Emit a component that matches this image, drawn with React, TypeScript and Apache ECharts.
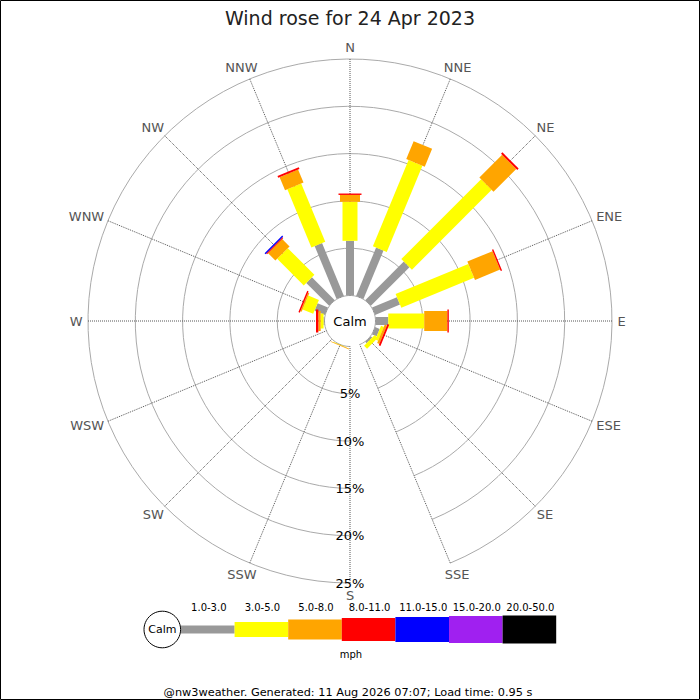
import * as echarts from "echarts";
import { useEffect, useRef } from "react";

const FONT = "DejaVu Sans";

// compass points, N first, clockwise
const directions = ["N", "NNE", "NE", "ENE", "E", "ESE", "SE", "SSE", "S", "SSW", "SW", "WSW", "W", "WNW", "NW", "NNW"];
const speedBins = ["1.0-3.0", "3.0-5.0", "5.0-8.0", "8.0-11.0", "11.0-15.0", "15.0-20.0", "20.0-50.0"];
const binColors = ["#999999", "#ffff00", "#ffa500", "#ff0000", "#0000ff", "#a020f0", "#000000"];
const binWidths = [8, 15, 20, 23, 25, 27, 28];

// % of the day in each speed band (mph), per direction
const speed1to3 = [5.78, 5.54, 5.77, 2.85, 1.35, 0.53, 0.2, 0, 0, 0.02, 0, 0, 0.1, 1.19, 3.42, 6.05];
const speed3to5 = [4.12, 9.86, 11.93, 8.32, 3.8, 0.32, 0.45, 0, 0, 0.03, 0, 0, 0.3, 1.21, 3.98, 6.65];
const speed5to8 = [0.73, 2.04, 3.4, 2.88, 2.45, 0.25, 0, 0, 0, 0.07, 0, 0, 0.25, 0.15, 1.1, 1.5];
const speed8to11 = [0.15, 0, 0.2, 0.15, 0.15, 0.19, 0, 0, 0, 0, 0, 0, 0.25, 0.15, 0.12, 0.2];
const speed11to15 = [0, 0, 0, 0, 0, 0, 0, 0, 0, 0, 0, 0, 0, 0, 0.13, 0];
const speed15to20 = [0, 0, 0, 0, 0, 0, 0, 0, 0, 0, 0, 0, 0, 0, 0, 0];
const speed20to50 = [0, 0, 0, 0, 0, 0, 0, 0, 0, 0, 0, 0, 0, 0, 0, 0];

const radiusMax = 25;
const radiusStep = 5;

const CX = 350;
const CY = 321;

const measure = (() => {
  const ctx = document.createElement("canvas").getContext("2d") as CanvasRenderingContext2D;
  return (text: string, font: string) => {
    ctx.font = font;
    return ctx.measureText(text).width;
  };
})();

const App = () => {
  const chartRef = useRef<HTMLDivElement>(null);

  useEffect(() => {
    const chart = echarts.init(chartRef.current as HTMLDivElement, undefined, { renderer: "svg" });

    // angle axis starts at S so the radius labels run downwards
    const axisDirs = [...directions.slice(8), ...directions.slice(0, 8)];
    const toAxis = (i: number) => (i + 8) % 16;

    const bins = [speed1to3, speed3to5, speed5to8, speed8to11, speed11to15, speed15to20, speed20to50];

    const barSeries = bins.map((values, b) => ({
      type: "custom",
      name: speedBins[b],
      coordinateSystem: "polar",
      data: values.map((v, i) => {
        let start = 0;
        for (let k = 0; k < b; k++) start += bins[k][i];
        return [start, start + v, toAxis(i)];
      }),
      encode: { radius: [0, 1], angle: 2 },
      renderItem: (params: any, api: any) => {
        const r0 = api.value(0);
        const r1 = api.value(1);
        const a = api.value(2);
        if (!(r1 > r0)) return null;
        const cs = params.coordSys;
        const p0 = api.coord([r0, a]);
        const p1 = api.coord([r1, a]);
        const pe = api.coord([radiusMax, a]);
        const len = Math.hypot(pe[0] - cs.cx, pe[1] - cs.cy);
        const ux = (pe[0] - cs.cx) / len;
        const uy = (pe[1] - cs.cy) / len;
        const h = binWidths[b] / 2;
        const nx = -uy * h;
        const ny = ux * h;
        return {
          type: "polygon",
          shape: {
            points: [
              [p0[0] + nx, p0[1] + ny],
              [p1[0] + nx, p1[1] + ny],
              [p1[0] - nx, p1[1] - ny],
              [p0[0] - nx, p0[1] - ny],
            ],
          },
          style: { fill: binColors[b], stroke: null },
        };
      },
    }));

    const dirFont = `13px "${FONT}"`;
    const labelSeries = {
      type: "custom",
      coordinateSystem: "polar",
      silent: true,
      data: axisDirs.map((_, k) => [radiusMax, k]),
      encode: { radius: 0, angle: 1 },
      renderItem: (params: any, api: any) => {
        const cs = params.coordSys;
        const text = axisDirs[params.dataIndex];
        const pe = api.coord([api.value(0), api.value(1)]);
        const len = Math.hypot(pe[0] - cs.cx, pe[1] - cs.cy);
        const ux = (pe[0] - cs.cx) / len;
        const uy = (pe[1] - cs.cy) / len;
        const w = measure(text, dirFont);
        const gap = 5.5;
        return {
          type: "text",
          x: pe[0] + ux * gap + (ux * w) / 2,
          y: pe[1] + uy * gap + (uy * 13) / 2,
          style: {
            text,
            fill: "#555555",
            font: dirFont,
            textAlign: "center",
            textVerticalAlign: "middle",
          },
        };
      },
    };

    const legendX0 = 181;
    const legendStep = 53.6;
    const legendY = 629.5;

    const legendItems: any[] = [];
    speedBins.forEach((label, b) => {
      legendItems.push({
        type: "rect",
        shape: { x: legendX0 + b * legendStep, y: legendY - binWidths[b] / 2, width: legendStep, height: binWidths[b] },
        style: { fill: binColors[b] },
      });
      legendItems.push({
        type: "text",
        x: legendX0 + b * legendStep + legendStep / 2 + 1,
        y: 607,
        style: { text: label, fill: "#000", font: `10px "${FONT}"`, textAlign: "center", textVerticalAlign: "middle" },
      });
    });

    const option = {
      animation: false,
      backgroundColor: "#ffffff",
      title: {
        text: "Wind rose for 24 Apr 2023",
        left: "center",
        top: 3,
        textStyle: { fontFamily: FONT, fontSize: 19, fontWeight: "normal", color: "#222222" },
      },
      polar: { center: [CX, CY], radius: [25.5, 262] },
      angleAxis: {
        type: "category",
        data: axisDirs,
        startAngle: 270,
        clockwise: true,
        boundaryGap: false,
        axisLine: { show: false },
        axisTick: { show: false },
        axisLabel: { show: false },
        splitLine: { show: true, interval: 0, lineStyle: { color: "#555555", type: "dotted", width: 1 } },
      },
      radiusAxis: {
        type: "value",
        min: 0,
        max: radiusMax,
        interval: radiusStep,
        axisLine: { show: false },
        axisTick: { show: false },
        axisLabel: {
          formatter: (v: number) => (v === 0 ? "" : `${v}%`),
          margin: 0,
          align: "center",
          verticalAlign: "middle",
          padding: [6, 0, 0, 0],
          color: "#000000",
          fontSize: 13,
          fontFamily: FONT,
        },
        splitLine: { show: true, lineStyle: { color: "#aaaaaa", width: 1 } },
      },
      graphic: [
        {
          type: "rect",
          shape: { x: 0.5, y: 0.5, width: 699, height: 699 },
          style: { fill: "none", stroke: "#000", lineWidth: 1 },
        },
        {
          type: "text",
          x: CX,
          y: CY,
          z: 10,
          style: { text: "Calm", fill: "#000", font: `13px "${FONT}"`, textAlign: "center", textVerticalAlign: "middle" },
        },
        ...legendItems,
        {
          type: "circle",
          shape: { cx: 162.3, cy: legendY, r: 18.3 },
          style: { fill: "#fff", stroke: "#000", lineWidth: 1 },
        },
        {
          type: "text",
          x: 162.3,
          y: legendY,
          style: { text: "Calm", fill: "#000", font: `11px "${FONT}"`, textAlign: "center", textVerticalAlign: "middle" },
        },
        {
          type: "text",
          x: 351,
          y: 654.5,
          style: { text: "mph", fill: "#000", font: `10px "${FONT}"`, textAlign: "center", textVerticalAlign: "middle" },
        },
        {
          type: "text",
          x: 348,
          y: 692,
          style: {
            text: "@nw3weather. Generated: 11 Aug 2026 07:07; Load time: 0.95 s",
            fill: "#000",
            font: `11.3px "${FONT}"`,
            textAlign: "center",
            textVerticalAlign: "middle",
          },
        },
      ],
      series: [...barSeries, labelSeries],
    };

    chart.setOption(option);

    return () => {
      chart.dispose();
    };
  }, []);

  return <div ref={chartRef} style={{ position: "absolute", left: 0, top: 0, width: "700px", height: "700px" }} />;
};

export default App;
